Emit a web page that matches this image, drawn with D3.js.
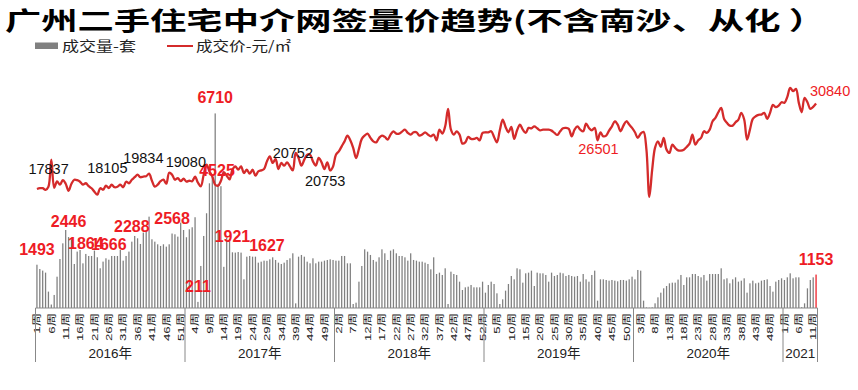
<!DOCTYPE html>
<html>
<head>
<meta charset="utf-8">
<script src="https://cdn.jsdelivr.net/npm/d3@7"></script>
<style>
  body { margin: 0; background: #fff; }
  svg { display: block; font-family: "Liberation Sans", "Noto Sans CJK SC", sans-serif; }
</style>
</head>
<body>
<div id="chart"></div>
<script>
// ---- data ----
const title = "广州二手住宅中介网签量价趋势(不含南沙、从化 ）";
const seriesNames = ["成交量-套", "成交价-元/㎡"];
const years = ["2016年", "2017年", "2018年", "2019年", "2020年", "2021"];
const weeksPerYear = [52, 52, 52, 52, 52, 12];

// weekly volume (套)
const volume2016 = [1493, 1345, 1290, 1220, 565, 120, 450, 1080, 1690, 2230,
  2690, 2446, 2370, 1518, 1945, 2000, 1540, 1864, 1794, 1794,
  1980, 1750, 1370, 1600, 1714, 1666, 1794, 1794, 1794, 2000,
  1633, 1794, 1945, 2288, 2484, 2404, 2208, 2600, 2690, 3150,
  2370, 2288, 2197, 2140, 2197, 2116, 2197, 2568, 2542, 2461,
  2944, 2690];
const volume2017 = [2440, 2714, 2784, 3130, 211, 1450, 2484, 3267, 4300, 4525,
  6710, 4280, 4200, 1420, 2420, 2370, 1921, 1910, 1930, 1910,
  990, 1770, 1794, 1770, 1770, 1564, 1598, 1633, 1627, 1679,
  1748, 1656, 1564, 1518, 1564, 1656, 1714, 1886, 160, 1770,
  1829, 1770, 1598, 1541, 1714, 1541, 1598, 1598, 1633, 1656,
  1679, 1656];
const volume2018 = [1633, 1633, 1794, 1794, 1541, 1541, 138, 184, 908, 1449,
  2024, 1943, 1829, 1656, 1598, 1748, 2024, 1886, 1656, 1978,
  2024, 1886, 1794, 1794, 1748, 1633, 1886, 1656, 1633, 1598,
  1598, 1564, 1518, 1334, 1748, 1173, 1219, 1139, 1369, 138,
  1253, 1173, 1139, 908, 621, 713, 736, 794, 713, 713,
  713, 908];
const volume2019 = [529, 794, 908, 828, 506, 138, 299, 598, 828, 1104,
  989, 1369, 1334, 874, 1196, 1219, 1288, 759, 1219, 1196,
  1196, 1139, 908, 1219, 1104, 1139, 1219, 1196, 1104, 1139,
  1104, 1081, 1104, 908, 1173, 989, 908, 1139, 1288, 253,
  989, 989, 966, 943, 966, 943, 920, 966, 966, 943,
  989, 1081];
const volume2020 = [989, 1311, 1288, 253, 20, 10, 23, 161, 368, 529,
  679, 759, 851, 874, 874, 980, 1139, 794, 1058, 1058,
  1173, 1173, 1104, 1058, 1139, 943, 1173, 1173, 1173, 1173,
  1369, 989, 1024, 851, 989, 1058, 909, 943, 1024, 529,
  851, 943, 851, 874, 943, 966, 989, 759, 564, 909,
  966, 1024];
const volume2021 = [966, 1058, 1196, 1024, 1058, 1058, 30, 161, 678, 966, 1058, 1153];

// weekly price (元/㎡)
const price2016 = [17950, 18070, 18070, 17837, 18300, 22380, 18140, 19100, 18600, 19280,
  18750, 17690, 18750, 19350, 19280, 19050, 18600, 18820, 18370, 18070,
  17540, 17090, 18070, 17840, 18450, 18105, 18600, 18220, 18300, 18600,
  18220, 19050, 18820, 19350, 19730, 20110, 19730, 19834, 19880, 20260,
  19200, 18300, 18600, 19130, 19350, 18750, 20410, 20110, 19350, 19580,
  19130, 19500];
const price2017 = [19080, 19200, 19130, 19810, 18900, 18340, 20110, 21620, 20610, 19850,
  18600, 18450, 19200, 20490, 19960, 19400, 20870, 21360, 20870, 21360,
  20370, 20870, 20260, 20870, 19960, 20610, 20760, 20970, 22120, 22880,
  21880, 22480, 20970, 21880, 21470, 21970, 21360, 20752, 23390, 22630,
  21470, 22380, 23130, 23130, 22120, 21470, 22630, 21970, 20970, 21970,
  20753, 21360];
const price2018 = [23130, 23630, 24390, 25140, 26010, 25300, 24150, 22630, 24000, 25510,
  26010, 26310, 25660, 25140, 24990, 25660, 26010, 25810, 25400, 26160,
  26660, 26310, 26310, 26610, 26910, 26410, 26160, 26510, 26510, 26010,
  26160, 26510, 26160, 25900, 26160, 25300, 26910, 26310, 27410, 30040,
  26910, 26160, 26660, 26160, 24800, 24990, 25810, 25510, 25510, 25660,
  25300, 26410];
const price2019 = [26510, 26510, 26660, 25810, 24990, 26810, 28430, 27320, 26510, 27320,
  25510, 26810, 27670, 26910, 26410, 27170, 27110, 27410, 27110, 26810,
  26910, 26910, 26910, 26760, 26410, 26110, 26660, 27110, 27170, 27020,
  25900, 26910, 27410, 26910, 26660, 27820, 27170, 26810, 27170, 25300,
  26501, 25900, 26010, 26760, 27410, 28170, 27670, 26660, 27520, 28170,
  27670, 27170];
const price2020 = [26510, 25660, 26310, 26570, 23890, 16780, 20870, 24190, 25140, 24300,
  25660, 23890, 23390, 24650, 24150, 23780, 23740, 23890, 24300, 24800,
  26160, 24650, 25300, 25660, 26660, 26410, 26910, 28170, 28680, 29530,
  30190, 28530, 27930, 27520, 27520, 28020, 28430, 29440, 28430, 25400,
  26910, 28530, 28920, 29140, 29180, 29440, 28530, 29440, 30650, 30290,
  30540, 31040];
const price2021 = [30950, 31860, 33220, 32710, 33070, 30950, 29530, 31710, 31040, 30040, 30350, 30840];

// which weeks carry a printed value
const volumeLabelIdx = [0, 11, 17, 25, 33, 47, 56, 61, 62, 68, 80, 271];
const priceLabelIdx = [3, 25, 37, 52, 89, 102, 196, 271];

// ---- build series ----
const volume = [].concat(volume2016, volume2017, volume2018, volume2019, volume2020, volume2021);
const price = [].concat(price2016, price2017, price2018, price2019, price2020, price2021);

const weeks = [];
weeksPerYear.forEach((n, y) => {
  for (let w = 1; w <= n; w++) weeks.push({ year: y, week: w });
});
const data = weeks.map((d, i) => ({ i, ...d, volume: volume[i], price: price[i] }));

// ---- layout ----
const W = 858, H = 390;
const plot = { left: 35.5, right: 817.5, top: 76, bottom: 308 };
const barColor = "#808080";
const lineColor = "#d42b2b";
const labelRed = "#ee1c25";

const svg = d3.select("#chart").append("svg")
  .attr("width", W).attr("height", H);

svg.append("rect").attr("width", W).attr("height", H).attr("fill", "#fff");

const x = d3.scaleBand()
  .domain(data.map((d) => d.i))
  .range([plot.left, plot.right])
  .paddingInner(0.56)
  .paddingOuter(0.28);
const step = x.step();
const cx = (i) => x(i) + x.bandwidth() / 2;

const yVol = d3.scaleLinear().domain([0, 8000]).range([plot.bottom, plot.top]);
const yPrice = d3.scaleLinear().domain([0, 35000]).range([plot.bottom, plot.top]);

// title
svg.append("text")
  .attr("x", 5).attr("y", 29.5)
  .attr("font-family", "'Noto Sans CJK SC', sans-serif")
  .attr("font-size", "25px")
  .attr("font-weight", "bold")
  .attr("fill", "#000")
  .attr("textLength", 820)
  .attr("lengthAdjust", "spacingAndGlyphs")
  .text(title);

// legend
const legend = svg.append("g").attr("font-family", "'Noto Sans CJK SC', sans-serif")
  .attr("font-size", "13.5px").attr("fill", "#222");
legend.append("rect").attr("x", 35).attr("y", 42.5).attr("width", 23).attr("height", 6.5).attr("fill", barColor);
legend.append("text").attr("x", 62).attr("y", 51).attr("textLength", 74)
  .attr("lengthAdjust", "spacingAndGlyphs").text(seriesNames[0]);
legend.append("line").attr("x1", 167).attr("x2", 193).attr("y1", 46).attr("y2", 46)
  .attr("stroke", lineColor).attr("stroke-width", 2);
legend.append("text").attr("x", 196).attr("y", 51).attr("textLength", 95)
  .attr("lengthAdjust", "spacingAndGlyphs").text(seriesNames[1]);

// bars
svg.append("g")
  .selectAll("rect")
  .data(data)
  .join("rect")
  .attr("x", (d) => x(d.i))
  .attr("width", x.bandwidth())
  .attr("y", (d) => yVol(d.volume))
  .attr("height", (d) => yVol(0) - yVol(d.volume))
  .attr("fill", (d) => (d.i === data.length - 1 ? labelRed : barColor));

// price line
const line = d3.line()
  .x((d) => cx(d.i))
  .y((d) => yPrice(d.price))
  .curve(d3.curveCatmullRom.alpha(0.5));

svg.append("path")
  .datum(data)
  .attr("d", line)
  .attr("fill", "none")
  .attr("stroke", lineColor)
  .attr("stroke-width", 2.3)
  .attr("stroke-linejoin", "round");

// x axis line
svg.append("line")
  .attr("x1", plot.left).attr("x2", plot.right)
  .attr("y1", plot.bottom).attr("y2", plot.bottom)
  .attr("stroke", "#888").attr("stroke-width", 1);

// week tick labels (every 5th week)
svg.append("g")
  .selectAll("text")
  .data(data.filter((d) => d.i % 5 === 0))
  .join("text")
  .attr("transform", (d) => `translate(${cx(d.i)},${plot.bottom + 5}) rotate(-90) scale(1.4,1)`)
  .attr("text-anchor", "end")
  .attr("dominant-baseline", "central")
  .attr("font-size", "9.5px")
  .attr("fill", "#222")
  .text((d) => d.week + "周");

// year groups
let start = 0;
const yearSpans = weeksPerYear.map((n, k) => {
  const x0 = x(start) - x.paddingOuter() * step;
  const s = { name: years[k], x0: x0, x1: x0 + n * step };
  start += n;
  return s;
});
const sepX = yearSpans.map((d) => d.x0).concat([yearSpans[yearSpans.length - 1].x1]);
svg.append("g")
  .selectAll("line")
  .data(sepX)
  .join("line")
  .attr("x1", (d) => d).attr("x2", (d) => d)
  .attr("y1", plot.bottom).attr("y2", 362)
  .attr("stroke", "#888").attr("stroke-width", 1);

svg.append("g")
  .selectAll("text")
  .data(yearSpans)
  .join("text")
  .attr("x", (d) => (d.x0 + d.x1) / 2)
  .attr("y", 357.5)
  .attr("text-anchor", "middle")
  .attr("font-size", "13.5px")
  .attr("fill", "#222")
  .text((d) => d.name);

// volume value labels
const volOffset = { 17: [0, -5], 61: [4.7, -1] };
svg.append("g")
  .selectAll("text")
  .data(volumeLabelIdx.map((i) => data[i]))
  .join("text")
  .attr("x", (d) => cx(d.i) + (volOffset[d.i] ? volOffset[d.i][0] : 0))
  .attr("y", (d) => yVol(d.volume) + (volOffset[d.i] ? volOffset[d.i][1] : -10))
  .attr("text-anchor", "middle")
  .attr("font-size", "16px")
  .attr("font-weight", "bold")
  .attr("fill", labelRed)
  .text((d) => d.volume);

// price value labels
const priceOffset = {
  3: [3, -15.5], 25: [-1.5, -15], 37: [0, -14], 52: [-0.6, -15],
  89: [0, -12], 102: [-5, 15.5], 196: [-2, 22], 271: [14, -8]
};
svg.append("g")
  .selectAll("text")
  .data(priceLabelIdx.map((i) => data[i]))
  .join("text")
  .attr("x", (d) => cx(d.i) + priceOffset[d.i][0])
  .attr("y", (d) => yPrice(d.price) + priceOffset[d.i][1])
  .attr("text-anchor", "middle")
  .attr("font-size", "14.5px")
  .attr("fill", (d) => (d.i >= 196 ? labelRed : "#111"))
  .text((d) => d.price);
</script>
</body>
</html>
